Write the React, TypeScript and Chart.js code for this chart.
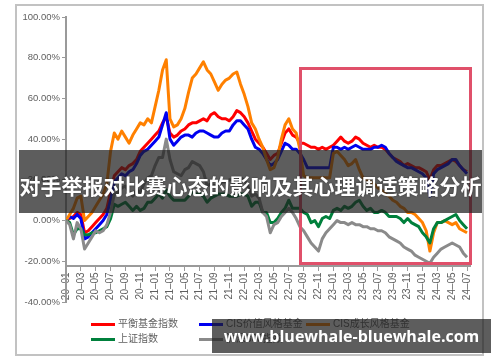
import React, { useEffect, useRef } from "react";
import { Chart, registerables } from "chart.js";

Chart.register(...registerables);

// one value every half month, starting 2020-01
const STEP_MONTHS = 0.5;

const tickLabels = [
  "20–01", "20–03", "20–05", "20–07", "20–09", "20–11",
  "21–01", "21–03", "21–05", "21–07", "21–09", "21–11",
  "22–01", "22–03", "22–05", "22–07", "22–09", "22–11",
  "23–01", "23–03", "23–05", "23–07", "23–09", "23–11",
  "24–01", "24–03", "24–05", "24–07",
];

const yTicks = [-40, -20, 0, 20, 40, 60, 80, 100];

// 平衡基金指数 (%)
const balancedFund = [
  0, 1, 2, 4, 3, -6, -5, -3, -1, 1, 3, 6, 14, 22,
  24, 26, 25, 27, 28, 30, 34, 36, 38, 40, 42, 44, 48, 51,
  43, 41, 42, 44, 45, 47, 48, 48, 49, 50, 49, 52, 53, 51,
  50, 50, 49, 51, 54, 53, 51, 48, 44, 40, 38, 36, 33, 30,
  32, 33, 38, 43, 45, 42, 41, 38, 38, 37, 36, 36, 35, 36,
  35, 36, 37, 39, 41, 39, 38, 39, 41, 40, 38, 37, 36, 37,
  36, 36, 35, 33, 31, 30, 29, 27, 28, 27, 26, 26, 25, 24,
  20, 25, 27, 27, 28, 29, 30, 29, 27, 25, 24,
];

// CIS价值风格基金 (%)
const valueFund = [
  0, 2, 1, 3, 1, -9, -8, -6, -4, -2, 0, 3, 10, 19,
  21, 23, 22, 24, 25, 28, 32, 34, 35, 37, 39, 41, 47, 53,
  40, 37, 39, 41, 42, 42, 41, 43, 44, 44, 43, 42, 41, 41,
  43, 44, 44, 47, 49, 49, 47, 45, 40, 36, 35, 33, 30, 27,
  28, 30, 34, 38, 37, 35, 35, 33, 30, 26, 26, 26, 26, 26,
  26, 26, 36, 36, 35, 36, 35, 36, 37, 36, 35, 35, 35, 36,
  36, 37, 36, 33, 31, 29, 28, 27, 26, 26, 25, 24, 23, 21,
  12, 23, 25, 26, 27, 28, 30, 30, 27, 25, 23,
];

// CIS成长风格基金 (%)
const growthFund = [
  0, 3, 6, 11, 12, 0, 2, 4, 7, 10, 13, 18, 34, 43,
  40, 44, 41, 38, 42, 45, 48, 47, 50, 48, 56, 64, 74, 79,
  50, 46, 47, 50, 55, 63, 70, 72, 75, 78, 74, 72, 68, 64,
  67, 69, 70, 72, 73, 67, 62, 56, 48, 45, 40, 36, 30, 25,
  26, 31, 40, 47, 50, 45, 43, 35, 22, 21, 21, 21, 21, 21,
  21, 21, 33, 34, 32, 30, 27, 28, 30, 25, 21, 20, 19, 18,
  16, 15, 13, 12, 10, 9, 7, 6, 4, 4, 3, 1, -1, -5,
  -15, -6, -1, -1, 0, -1, -2, -1, -4, -5, -6,
];

// 上证指数 (%)
const shanghaiIndex = [
  0, -1, -7, -4, -4, -7, -7, -6, -6, -5, -4, -3, 1, 8,
  7, 8, 9, 7, 5, 7, 5, 6, 9, 9, 11, 13, 11, 15,
  12, 10, 10, 10, 10, 12, 14, 13, 13, 12, 9, 11, 12, 13,
  13, 13, 12, 12, 12, 13, 13, 12, 7, 9, 9, 4, 4, -1,
  -1, 1, 4, 6, 10, 6, 6, 6, 4, 3, -1, 0, -3, 1,
  2, 1, 5, 6, 5, 7, 6, 7, 9, 10, 7, 5, 6, 4,
  4, 5, 4, 2, 2, 2, 1, -1, 1, -1, -2, -3, -6, -8,
  -11, -4, -1, -1, 0, 1, 2, 3, 0, -2, -4,
];

// 沪深300指数 (%)
const hs300Index = [
  0, -2, -9, -1, -4, -14, -11, -8, -5, -6, -5, -2, 4, 13,
  14, 16, 17, 14, 12, 15, 14, 18, 21, 22, 27, 31, 31, 40,
  30, 24, 23, 22, 25, 26, 29, 28, 27, 24, 17, 18, 17, 18,
  19, 19, 20, 20, 18, 21, 20, 17, 12, 13, 11, 4, 2, -6,
  -2, -1, 2, 4, 6, 4, 1, -3, -5, -8, -11, -13, -15, -9,
  -6, -4, -2, 0, -1, -1, -2, -1, -2, -2, -3, -3, -4, -4,
  -5, -5, -6, -8, -9, -10, -11, -13, -14, -15, -17, -18, -19, -20,
  -21, -18, -16, -14, -13, -12, -11, -12, -13, -16, -18,
];

const seriesNames = ["平衡基金指数", "CIS价值风格基金", "CIS成长风格基金", "上证指数", "沪深300指数"];
const seriesColors = ["#ff0000", "#0000f0", "#ff8000", "#00803c", "#8a8a8a"];
const seriesValues = [balancedFund, valueFund, growthFund, shanghaiIndex, hs300Index];

const LATIN = '"Liberation Sans", Arial, "Noto Sans CJK SC", sans-serif';

export default function App() {
  const ref = useRef<HTMLCanvasElement | null>(null);

  useEffect(() => {
    if (!ref.current) return;
    const datasets = seriesValues.map((vals, s) => ({
      label: seriesNames[s],
      data: vals.map((v, i) => ({ x: i * STEP_MONTHS, y: v })),
      borderColor: seriesColors[s],
      backgroundColor: seriesColors[s],
      borderWidth: 3,
      pointRadius: 0,
      tension: 0,
      borderJoinStyle: "round" as const,
      order: 5 - s,
    }));
    const chart = new Chart(ref.current, {
      type: "line",
      data: { datasets },
      options: {
        animation: false,
        responsive: false,
        devicePixelRatio: 1,
        layout: { padding: { left: 15, top: 17, right: 30, bottom: 60 } },
        plugins: { legend: { display: false }, tooltip: { enabled: false } },
        scales: {
          x: {
            type: "linear",
            min: 0,
            max: 54.4,
            position: { y: -22.5 } as any,
            afterBuildTicks: (scale: any) => {
              scale.ticks = tickLabels.map((_, k) => ({ value: k * 2 }));
            },
            ticks: {
              autoSkip: false,
              maxRotation: 90,
              minRotation: 90,
              padding: 2,
              color: "#5f5f5f",
              font: { size: 10, family: LATIN },
              callback: (v: any) => tickLabels[Math.round(Number(v) / 2)],
            },
            grid: { drawOnChartArea: false, drawTicks: true, tickLength: 4, color: "#9a9a9a" },
            border: { display: true, color: "#9a9a9a", width: 2 },
          },
          y: {
            min: -40,
            max: 100,
            afterBuildTicks: (scale: any) => {
              scale.ticks = yTicks.map((v) => ({ value: v }));
            },
            afterFit: (scale: any) => {
              scale.width = 51;
            },
            ticks: {
              padding: 2,
              color: "#5f5f5f",
              font: { size: 9.5, family: LATIN },
              callback: (v: any) => Number(v).toFixed(2) + "%",
            },
            grid: { drawOnChartArea: false, drawTicks: true, tickLength: 4, color: "#9a9a9a" },
            border: { display: true, color: "#9a9a9a", width: 2 },
          },
        },
      },
    });
    return () => chart.destroy();
  }, []);

  const legendPos = [
    { x: 91, y: 324 },
    { x: 199, y: 324 },
    { x: 306, y: 324 },
    { x: 91, y: 339 },
    { x: 199, y: 339 },
  ];

  return (
    <div style={{ position: "fixed", left: 0, top: 0, width: 500, height: 362, background: "#fff", overflow: "hidden" }}>
      <div
        style={{
          position: "absolute", left: 15, top: 4, width: 469, height: 352,
          border: "2px solid #c2c2c2", boxSizing: "border-box",
        }}
      />
      <canvas ref={ref} width={500} height={362} style={{ position: "absolute", left: 0, top: 0, width: 500, height: 362 }} />
      {legendPos.map((p, s) => (
        <React.Fragment key={s}>
          <div style={{ position: "absolute", left: p.x, top: p.y - 1.5, width: 24, height: 3, background: seriesColors[s] }} />
          <div
            style={{
              position: "absolute", left: p.x + 27, top: p.y - 8, height: 16, lineHeight: "16px",
              fontSize: 10, color: "#5f5f5f", fontFamily: LATIN, whiteSpace: "nowrap",
            }}
          >
            {seriesNames[s]}
          </div>
        </React.Fragment>
      ))}
      <div
        style={{
          position: "absolute", left: 298.5, top: 67, width: 173, height: 198,
          border: "3px solid #e0506a", boxSizing: "border-box",
        }}
      />
      <div
        style={{
          position: "absolute", left: 19, top: 150, width: 463, height: 63,
          background: "rgba(30,30,30,0.72)", display: "flex", alignItems: "center", justifyContent: "center",
          paddingTop: 6, boxSizing: "border-box",
        }}
      >
        <span
          style={{
            color: "#fff", fontWeight: 700, fontSize: 21, whiteSpace: "nowrap",
            fontFamily: '"Noto Sans CJK SC", sans-serif', textShadow: "0 0 2px rgba(0,0,0,0.5)",
          }}
        >
          对手举报对比赛心态的影响及其心理调适策略分析
        </span>
      </div>
      <div
        style={{
          position: "absolute", left: 212, top: 319, width: 279, height: 34,
          background: "rgba(30,30,30,0.72)", display: "flex", alignItems: "center", justifyContent: "center",
        }}
      >
        <span style={{ color: "#fff", fontWeight: 700, fontSize: 16, fontFamily: '"Open Sans", sans-serif', whiteSpace: "nowrap" }}>
          www.bluewhale-bluewhale.com
        </span>
      </div>
    </div>
  );
}
